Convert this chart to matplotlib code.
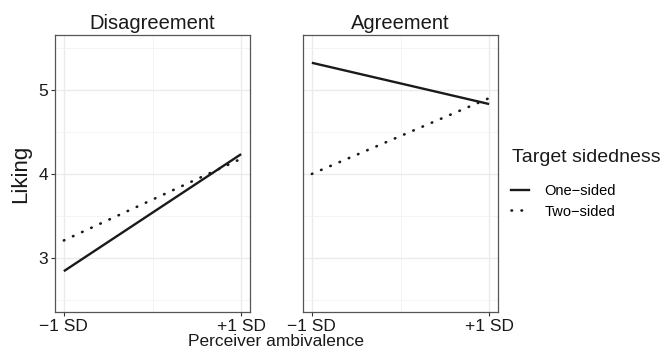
import numpy as np
import matplotlib.pyplot as plt
from matplotlib.lines import Line2D

plt.rcParams['font.family'] = ['Liberation Sans', 'DejaVu Sans']

# data
x_levels = [-1, 1]
x_ticklabels = ['\u22121 SD', '+1 SD']
panels = ['Disagreement', 'Agreement']
one_sided = {'Disagreement': [2.845, 4.235], 'Agreement': [5.32, 4.83]}
two_sided = {'Disagreement': [3.21, 4.18], 'Agreement': [4.0, 4.9]}

W, H = 666, 353
fig = plt.figure(figsize=(W / 100, H / 100), dpi=100)

def px_axes(x0, y0, x1, y1):
    return fig.add_axes([x0 / W, 1 - y1 / H, (x1 - x0) / W, (y1 - y0) / H])

axes = [px_axes(55, 35, 250, 312), px_axes(303, 35, 498, 312)]
dotted = (0, (0.2, 3.6))

for ax, name in zip(axes, panels):
    ax.plot(x_levels, one_sided[name], color='#1a1a1a', lw=1.7,
            solid_capstyle='butt', zorder=3)
    ax.plot(x_levels, two_sided[name], color='#1a1a1a', lw=1.9,
            linestyle=dotted, dash_capstyle='round', zorder=3)
    ax.set_xlim(-1.1, 1.1)
    ax.set_ylim(2.36, 5.65)
    ax.set_xticks(x_levels)
    ax.set_xticklabels(x_ticklabels)
    ax.set_xticks([0], minor=True)
    ax.set_yticks([3, 4, 5])
    ax.set_yticks([2.5, 3.5, 4.5, 5.5], minor=True)
    ax.grid(True, which='major', color='#ebebeb', lw=1.0, zorder=0)
    ax.grid(True, which='minor', color='#f2f2f2', lw=0.6, zorder=0)
    ax.set_axisbelow(True)
    for s in ax.spines.values():
        s.set_color('#555555')
        s.set_linewidth(0.9)
    ax.tick_params(which='major', length=3, width=0.8, color='#333333',
                   labelsize=12.5, labelcolor='#1a1a1a', pad=2)
    ax.tick_params(which='minor', length=0)
    ax.set_title(name, fontsize=14.5, color='#1a1a1a', pad=4)

axes[1].tick_params(axis='y', which='both', left=False, labelleft=False)
axes[0].set_ylabel('Liking', fontsize=16, color='#1a1a1a', labelpad=5)
fig.text(276 / W, 1 - 342 / H, 'Perceiver ambivalence', ha='center',
         va='center', fontsize=12.5, color='#1a1a1a')

fig.text(512 / W, 1 - 158 / H, 'Target sidedness', ha='left', va='center',
         fontsize=14, color='#1a1a1a')
handles = [Line2D([], [], color='#1a1a1a', lw=1.7),
           Line2D([], [], color='#1a1a1a', lw=1.9, linestyle=dotted,
                  dash_capstyle='round')]
leg = fig.legend(handles, ['One\u2212sided', 'Two\u2212sided'],
                 loc='upper left', bbox_to_anchor=(511 / W, 1 - 184 / H),
                 frameon=False, fontsize=10.5, handlelength=1.2,
                 handletextpad=1.1, labelspacing=0.45, borderaxespad=0,
                 borderpad=0)

fig.savefig('out.png', dpi=100)
